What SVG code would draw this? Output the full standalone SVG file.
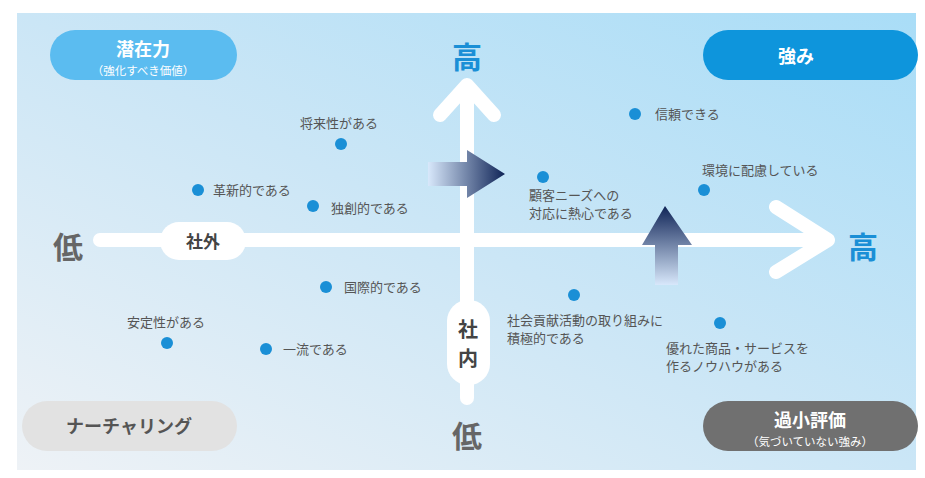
<svg xmlns="http://www.w3.org/2000/svg" width="925" height="478" viewBox="0 0 925 478">
<defs>
<linearGradient id="bg" x1="0" y1="1" x2="1" y2="0"><stop offset="0" stop-color="#eef2f6"/><stop offset="0.5" stop-color="#cbe6f6"/><stop offset="1" stop-color="#a9ddf7"/></linearGradient>
<linearGradient id="gr" x1="0" y1="0" x2="1" y2="0"><stop offset="0" stop-color="#d8e8fb"/><stop offset="1" stop-color="#0f2457"/></linearGradient>
<linearGradient id="gu" x1="0" y1="1" x2="0" y2="0"><stop offset="0" stop-color="#d8e8fb"/><stop offset="1" stop-color="#0f2457"/></linearGradient>
<style>
text{font-family:"Noto Sans CJK JP","Noto Sans",sans-serif}
.t{font-size:13px;fill:#555}
.d{fill:#1a8fd6}
.ax{stroke:#fff;stroke-width:14;fill:none;stroke-linecap:round;stroke-linejoin:round}
.big{font-size:30px;text-anchor:middle;font-weight:bold}
.b{font-weight:bold}
</style>
</defs>
<rect width="925" height="478" fill="#fff"/>
<rect x="17" y="13" width="899" height="457" fill="url(#bg)"/>
<g id="connectors">
<path class="ax" d="M100 240H828M776 207L828 240L776 272"/>
<path class="ax" d="M467 398V85M440 115L467 85L494 115"/>
<path fill="url(#gr)" d="M428 162H467V150L505 174L467 198V186H428Z"/>
<path fill="url(#gu)" d="M655 285V245H642L665 206L692 245H678V285Z"/>
</g>
<g id="ext"><rect x="160" y="222" width="86" height="38" rx="19" fill="#fff"/><text x="203" y="248" font-size="17" text-anchor="middle" fill="#444" class="b">社外</text></g>
<g id="int"><rect x="447" y="300" width="43" height="85" rx="21" fill="#fff"/><text x="468" y="337" font-size="20" text-anchor="middle" fill="#444" class="b">社</text><text x="468" y="366" font-size="20" text-anchor="middle" fill="#444" class="b">内</text></g>
<g id="labels">
<text x="467" y="68" class="big" fill="#1a8fd6">高</text>
<text x="863" y="258" class="big" fill="#1a8fd6">高</text>
<text x="68" y="258" class="big" fill="#666">低</text>
<text x="467" y="447" class="big" fill="#666">低</text>
</g>
<g id="q1"><rect x="50" y="30" width="187" height="50" rx="25" fill="#5bbcf0"/><text x="143" y="56" font-size="18" text-anchor="middle" fill="#fff" class="b">潜在力</text><text x="143" y="75" font-size="11.5" text-anchor="middle" fill="#fff">（強化すべき価値）</text></g>
<g id="q2"><rect x="703" y="30" width="215" height="50" rx="25" fill="#0e95dc"/><text x="796" y="63" font-size="18" text-anchor="middle" fill="#fff" class="b">強み</text></g>
<g id="q3"><rect x="22" y="401" width="215" height="50" rx="25" fill="#e2e2e2"/><text x="129" y="433" font-size="18" text-anchor="middle" fill="#555" class="b">ナーチャリング</text></g>
<g id="q4"><rect x="703" y="401" width="215" height="50" rx="25" fill="#707070"/><text x="810" y="427" font-size="18" text-anchor="middle" fill="#fff" class="b">過小評価</text><text x="810" y="446" font-size="11.5" text-anchor="middle" fill="#fff">（気づいていない強み）</text></g>
<g id="items">
<circle class="d" cx="341" cy="144" r="6"/><text class="t" x="300" y="128">将来性がある</text>
<circle class="d" cx="198" cy="190" r="6"/><text class="t" x="213" y="195">革新的である</text>
<circle class="d" cx="313" cy="206" r="6"/><text class="t" x="331" y="213">独創的である</text>
<circle class="d" cx="326" cy="287" r="6"/><text class="t" x="344" y="292">国際的である</text>
<circle class="d" cx="167" cy="343" r="6"/><text class="t" x="127" y="327">安定性がある</text>
<circle class="d" cx="266" cy="349" r="6"/><text class="t" x="283" y="354">一流である</text>
<circle class="d" cx="635" cy="114" r="6"/><text class="t" x="655" y="119">信頼できる</text>
<circle class="d" cx="543" cy="177" r="6"/><text class="t" x="529" y="200">顧客ニーズへの</text><text class="t" x="529" y="218">対応に熱心である</text>
<circle class="d" cx="704" cy="190" r="6"/><text class="t" x="702" y="175">環境に配慮している</text>
<circle class="d" cx="574" cy="295" r="6"/><text class="t" x="507" y="325">社会貢献活動の取り組みに</text><text class="t" x="507" y="343">積極的である</text>
<circle class="d" cx="720" cy="323" r="6"/><text class="t" x="666" y="353">優れた商品・サービスを</text><text class="t" x="666" y="371">作るノウハウがある</text>
</g>
</svg>
